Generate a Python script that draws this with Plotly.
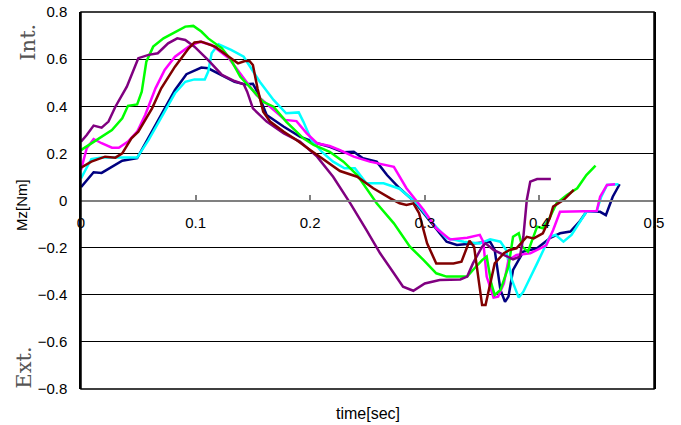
import plotly.graph_objects as go

# ---- data ----
navy_t = [0.0, 0.011, 0.018, 0.027, 0.036, 0.049, 0.057, 0.070, 0.082, 0.092, 0.105, 0.111, 0.123, 0.134, 0.143, 0.150, 0.154, 0.162, 0.177, 0.191, 0.206, 0.217, 0.229, 0.238, 0.246, 0.258, 0.267, 0.278, 0.290, 0.305, 0.319, 0.328, 0.345, 0.357, 0.361, 0.366, 0.370, 0.373, 0.377, 0.386, 0.398, 0.409, 0.418, 0.427, 0.435, 0.441, 0.453, 0.458, 0.464, 0.470]
navy_v = [0.057, 0.120, 0.117, 0.144, 0.169, 0.180, 0.250, 0.363, 0.469, 0.536, 0.564, 0.561, 0.533, 0.504, 0.493, 0.495, 0.460, 0.363, 0.313, 0.271, 0.243, 0.228, 0.205, 0.207, 0.179, 0.165, 0.108, 0.052, 0.000, -0.090, -0.175, -0.189, -0.182, -0.175, -0.210, -0.380, -0.430, -0.408, -0.295, -0.217, -0.203, -0.160, -0.139, -0.132, -0.090, -0.048, -0.048, -0.062, 0.016, 0.069]

cyan_t = [0.0, 0.009, 0.018, 0.030, 0.041, 0.049, 0.059, 0.073, 0.082, 0.091, 0.099, 0.108, 0.111, 0.114, 0.120, 0.131, 0.142, 0.156, 0.168, 0.179, 0.190, 0.194, 0.201, 0.210, 0.220, 0.230, 0.239, 0.249, 0.264, 0.278, 0.293, 0.307, 0.319, 0.334, 0.348, 0.357, 0.366, 0.371, 0.376, 0.382, 0.386, 0.398, 0.409, 0.414, 0.421, 0.428, 0.435, 0.441, 0.450, 0.454, 0.459, 0.469]
cyan_v = [0.094, 0.176, 0.182, 0.182, 0.179, 0.182, 0.257, 0.377, 0.455, 0.504, 0.514, 0.514, 0.547, 0.625, 0.663, 0.639, 0.610, 0.504, 0.427, 0.370, 0.374, 0.335, 0.257, 0.207, 0.165, 0.137, 0.137, 0.073, 0.073, 0.050, -0.012, -0.097, -0.160, -0.175, -0.182, -0.165, -0.175, -0.210, -0.337, -0.412, -0.387, -0.267, -0.154, -0.146, -0.175, -0.146, -0.090, -0.048, -0.045, 0.016, 0.066, 0.069]

magenta_t = [0.0, 0.005, 0.011, 0.018, 0.027, 0.033, 0.041, 0.049, 0.056, 0.065, 0.073, 0.082, 0.094, 0.104, 0.114, 0.129, 0.142, 0.153, 0.165, 0.178, 0.188, 0.197, 0.206, 0.217, 0.226, 0.238, 0.252, 0.267, 0.273, 0.284, 0.299, 0.310, 0.322, 0.337, 0.348, 0.351, 0.354, 0.360, 0.364, 0.369, 0.373, 0.380, 0.392, 0.406, 0.412, 0.418, 0.438, 0.450, 0.453, 0.459, 0.466]
magenta_v = [0.130, 0.222, 0.261, 0.243, 0.224, 0.224, 0.250, 0.292, 0.363, 0.476, 0.554, 0.610, 0.653, 0.674, 0.660, 0.604, 0.519, 0.448, 0.398, 0.342, 0.337, 0.285, 0.243, 0.231, 0.214, 0.186, 0.165, 0.148, 0.143, 0.052, -0.040, -0.118, -0.165, -0.158, -0.146, -0.175, -0.323, -0.412, -0.408, -0.352, -0.253, -0.231, -0.224, -0.190, -0.125, -0.048, -0.045, -0.045, 0.016, 0.066, 0.069]

green_t = [0.0, 0.009, 0.018, 0.027, 0.036, 0.041, 0.049, 0.053, 0.057, 0.063, 0.072, 0.082, 0.091, 0.098, 0.105, 0.111, 0.123, 0.131, 0.139, 0.147, 0.159, 0.168, 0.179, 0.194, 0.203, 0.217, 0.229, 0.241, 0.258, 0.273, 0.287, 0.299, 0.310, 0.319, 0.337, 0.342, 0.350, 0.354, 0.358, 0.361, 0.366, 0.373, 0.377, 0.382, 0.385, 0.390, 0.395, 0.398, 0.403, 0.408, 0.415, 0.424, 0.433, 0.441, 0.449]
green_v = [0.214, 0.243, 0.271, 0.299, 0.349, 0.402, 0.408, 0.462, 0.589, 0.653, 0.688, 0.714, 0.738, 0.741, 0.717, 0.688, 0.646, 0.596, 0.525, 0.483, 0.419, 0.398, 0.335, 0.264, 0.236, 0.207, 0.165, 0.108, -0.012, -0.097, -0.196, -0.253, -0.309, -0.323, -0.323, -0.295, -0.253, -0.238, -0.352, -0.401, -0.380, -0.281, -0.154, -0.139, -0.196, -0.217, -0.146, -0.111, -0.118, -0.083, -0.012, 0.023, 0.052, 0.108, 0.148]

purple_t = [0.0, 0.005, 0.011, 0.018, 0.024, 0.030, 0.040, 0.050, 0.059, 0.067, 0.076, 0.084, 0.091, 0.099, 0.111, 0.123, 0.134, 0.142, 0.145, 0.150, 0.162, 0.177, 0.191, 0.206, 0.220, 0.235, 0.249, 0.261, 0.273, 0.281, 0.290, 0.300, 0.313, 0.331, 0.337, 0.342, 0.350, 0.353, 0.360, 0.369, 0.377, 0.383, 0.386, 0.389, 0.392, 0.398, 0.410]
purple_v = [0.250, 0.278, 0.318, 0.309, 0.335, 0.398, 0.483, 0.604, 0.618, 0.625, 0.667, 0.688, 0.681, 0.653, 0.596, 0.533, 0.507, 0.493, 0.462, 0.391, 0.335, 0.285, 0.250, 0.186, 0.101, -0.012, -0.125, -0.224, -0.309, -0.366, -0.383, -0.352, -0.337, -0.335, -0.323, -0.267, -0.196, -0.182, -0.210, -0.231, -0.250, -0.238, -0.154, 0.002, 0.080, 0.091, 0.091]

maroon_t = [0.0, 0.009, 0.021, 0.030, 0.036, 0.044, 0.050, 0.062, 0.070, 0.082, 0.094, 0.099, 0.105, 0.117, 0.129, 0.137, 0.143, 0.147, 0.150, 0.154, 0.159, 0.165, 0.177, 0.188, 0.200, 0.214, 0.226, 0.241, 0.255, 0.270, 0.278, 0.284, 0.290, 0.295, 0.302, 0.310, 0.316, 0.325, 0.332, 0.337, 0.339, 0.343, 0.347, 0.350, 0.353, 0.357, 0.361, 0.369, 0.374, 0.380, 0.389, 0.395, 0.403, 0.409, 0.412, 0.421, 0.430]
maroon_v = [0.139, 0.165, 0.186, 0.182, 0.200, 0.264, 0.292, 0.391, 0.476, 0.568, 0.646, 0.671, 0.674, 0.653, 0.610, 0.582, 0.592, 0.592, 0.575, 0.476, 0.377, 0.335, 0.292, 0.257, 0.214, 0.165, 0.125, 0.101, 0.052, 0.009, -0.012, -0.019, -0.012, -0.054, -0.182, -0.267, -0.267, -0.267, -0.260, -0.196, -0.171, -0.196, -0.352, -0.444, -0.444, -0.352, -0.267, -0.224, -0.210, -0.203, -0.154, -0.161, -0.139, -0.076, -0.026, 0.002, 0.045]

series = [
    (navy_t, navy_v, "#000080"),
    (cyan_t, cyan_v, "#00FFFF"),
    (magenta_t, magenta_v, "#FF00FF"),
    (green_t, green_v, "#00FF00"),
    (purple_t, purple_v, "#800080"),
    (maroon_t, maroon_v, "#800000"),
]

x_ticks = [0, 0.1, 0.2, 0.3, 0.4, 0.5]
x_tick_labels = ["0", "0.1", "0.2", "0.3", "0.4", "0.5"]
y_ticks = [-0.8, -0.6, -0.4, -0.2, 0, 0.2, 0.4, 0.6, 0.8]
y_tick_labels = ["\u22120.8", "\u22120.6", "\u22120.4", "\u22120.2", "0", "0.2", "0.4", "0.6", "0.8"]

fig = go.Figure()
for t, v, c in series:
    fig.add_trace(go.Scatter(x=t, y=v, mode="lines", line=dict(color=c, width=2.5),
                             showlegend=False, hoverinfo="skip"))

SERIF = "DejaVu Serif, Liberation Serif, serif"
fig.update_layout(
    width=681, height=425,
    margin=dict(l=81, r=27, t=12, b=36, autoexpand=False),
    paper_bgcolor="white", plot_bgcolor="white",
    font=dict(family="Liberation Sans, Arial, sans-serif", size=15, color="black"),
    xaxis=dict(range=[0, 0.5], tickvals=x_ticks, ticktext=x_tick_labels,
               anchor="free", position=0.5, showline=True, linecolor="#808080", linewidth=2,
               ticks="inside", ticklen=5, tickcolor="#808080", tickwidth=1.5,
               showgrid=False, zeroline=False, ticklabelstandoff=8, automargin=False,
               ticklabeloverflow="allow"),
    yaxis=dict(range=[-0.8, 0.8], tickvals=y_ticks, ticktext=y_tick_labels,
               showline=True, linecolor="black", linewidth=1.5, mirror=True,
               ticks="", showgrid=True, gridcolor="black", gridwidth=1,
               zeroline=False, ticklabelstandoff=9, automargin=False,
               ticklabeloverflow="allow"),
    shapes=[dict(type="rect", xref="paper", yref="paper", x0=0, x1=1, y0=0, y1=1,
                 line=dict(color="black", width=1.5), layer="above")],
    annotations=[
        dict(text="time[sec]", xref="paper", yref="paper", x=0.501, y=-0.066,
             showarrow=False, xanchor="center", yanchor="middle", font=dict(size=16)),
        dict(text="Mz[Nm]", xref="paper", yref="paper", x=-0.1047, y=0.488,
             showarrow=False, textangle=-90, xanchor="center", yanchor="middle",
             font=dict(size=15)),
        dict(text="Int.", xref="paper", yref="paper", x=-0.094, y=0.919,
             showarrow=False, textangle=-90, xanchor="center", yanchor="middle",
             font=dict(family=SERIF, size=21, color="#555555")),
        dict(text="Ext.", xref="paper", yref="paper", x=-0.101, y=0.057,
             showarrow=False, textangle=-90, xanchor="center", yanchor="middle",
             font=dict(family=SERIF, size=21, color="#555555")),
    ],
)

fig.write_html("out.html", config={"displayModeBar": False},
               post_script="document.body.style.margin='0';")
